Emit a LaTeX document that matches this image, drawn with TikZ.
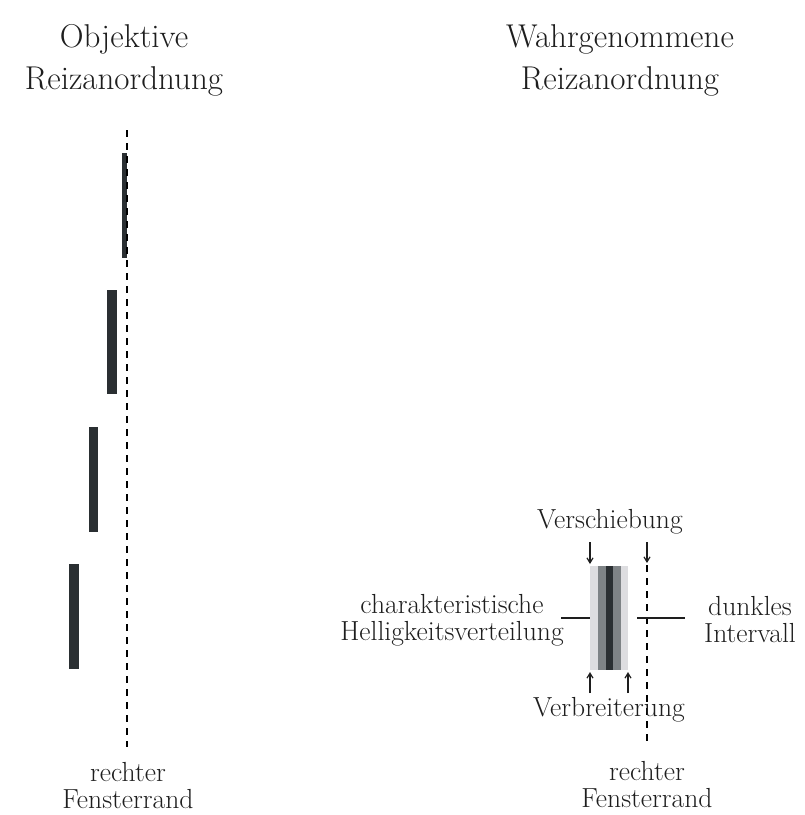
\documentclass[tikz,border=0pt]{standalone}
\usetikzlibrary{arrows.meta}
\definecolor{barfill}{HTML}{2A2F32}
\definecolor{midgrey}{HTML}{7E8386}
\definecolor{palegrey}{HTML}{DDDDE0}
\definecolor{ink}{HTML}{1E1E1E}
\tikzset{
  lbl/.style={font=\fontsize{27.6}{27}\selectfont, align=center, inner sep=0pt, anchor=base, text=ink},
  ttl/.style={font=\fontsize{33}{42}\selectfont, align=center, inner sep=0pt, anchor=base, text=ink},
  windowedge/.style={dash pattern=on 7pt off 6pt, line width=2.6pt, draw=black},
  stimbar/.style={fill=barfill, draw=none},
  pointer/.style={-{Straight Barb[length=5pt,width=6pt]}, line width=1.2pt, draw=ink},
  leader/.style={line width=1.4pt, draw=ink},
}
\begin{document}
\begin{tikzpicture}[x=1pt,y=-1pt]
\useasboundingbox (0,0) rectangle (805,815);

% ---- left panel: objective stimulus arrangement ----
% (multi-line nodes are placed by the baseline of their last line)
\node[ttl] (objtitle) at (124,89) {Objektive\\Reizanordnung};

\fill[stimbar] (122,153) rectangle (127,258);
\fill[stimbar] (107,290) rectangle (117,394);
\fill[stimbar] (89,427) rectangle (98,532);
\fill[stimbar] (69,564) rectangle (79,669);

\coordinate (ledgetop) at (127,130);
\coordinate (ledgebot) at (127,747);
\draw[windowedge] (ledgetop) -- (ledgebot);
\node[lbl] (ledgelbl) at (128,808) {rechter\\Fensterrand};

% ---- right panel: perceived stimulus arrangement ----
\node[ttl] (pertitle) at (620,89) {Wahrgenommene\\Reizanordnung};

% brightness profile of the perceived bar
\fill[palegrey] (590,566) rectangle (628,670);
\fill[midgrey]  (598,566) rectangle (621,670);
\fill[barfill]  (606,566) rectangle (613,670);
\coordinate (profTL) at (590,564);
\coordinate (profBL) at (590,672);
\coordinate (profBR) at (628,672);
\coordinate (profL)  at (590,618);
\coordinate (profR)  at (637,618);

\coordinate (redgetop) at (647,565);
\coordinate (redgebot) at (647,745);
\coordinate (redgemark) at (647,563);
\draw[windowedge] (redgetop) -- (redgebot);

\node[lbl] (shift) at (610,528) {Verschiebung};
\coordinate (shiftL) at (590,542);
\coordinate (shiftR) at (647,542);
\draw[pointer] (shiftL) -- (profTL);
\draw[pointer] (shiftR) -- (redgemark);

\node[lbl] (widen) at (609,716) {Verbreiterung};
\coordinate (widenL) at (590,693);
\coordinate (widenR) at (628,693);
\draw[pointer] (widenL) -- (profBL);
\draw[pointer] (widenR) -- (profBR);

\node[lbl] (profile) at (452,640) {charakteristische\\Helligkeitsverteilung};
\coordinate (profileend) at (561,618);
\draw[leader] (profileend) -- (profL);

\node[lbl] (dark) at (750,642) {dunkles\\Intervall};
\coordinate (darkend) at (685,618);
\draw[leader] (profR) -- (darkend);

\node[lbl] (redgelbl) at (647,807) {rechter\\Fensterrand};
\end{tikzpicture}
\end{document}
